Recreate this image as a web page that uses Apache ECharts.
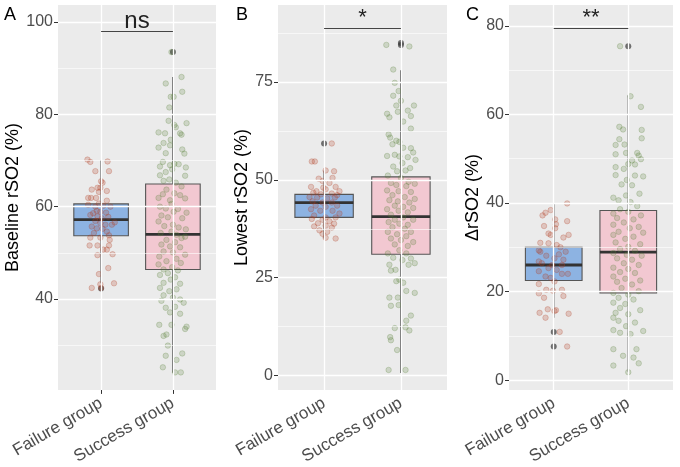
<!DOCTYPE html>
<html>
<head>
<meta charset="utf-8">
<script src="https://cdn.jsdelivr.net/npm/echarts@6/dist/echarts.min.js"></script>
<style>
  html, body { margin: 0; padding: 0; background: #fff; }
  #chart { width: 680px; height: 467px; }
</style>
</head>
<body>
<div id="chart"></div>
<script>
// groups and panel texts
const categories = ['Failure group', 'Success group'];
const panelLetters = ['A', 'B', 'C'];
const yTitles = ['Baseline rSO2 (%)', 'Lowest rSO2 (%)', 'ΔrSO2 (%)'];
const sigText = ['ns', '*', '**'];
const sigY = [98, 88.7, 79.4];

// axis ranges and ticks
const yRange = [[20.3, 103.7], [-3.7, 94.7], [-2.2, 84.7]];
const yMajor = [[40, 60, 80, 100], [0, 25, 50, 75], [0, 20, 40, 60, 80]];
const yMinor = [[30, 50, 70, 90], [12.5, 37.5, 62.5, 87.5], [10, 30, 50, 70]];

// box stats: [lower whisker, Q1, median, Q3, upper whisker]
const aFailBox = [43.4, 53.7, 57.2, 60.6, 70.1];
const aSuccBox = [24.0, 46.4, 54.0, 64.9, 88.1];
const bFailBox = [35.0, 40.4, 44.2, 46.3, 52.4];
const bSuccBox = [0.6, 31.0, 40.6, 50.75, 78.0];
const cFailBox = [14.1, 22.5, 26.0, 30.0, 39.9];
const cSuccBox = [1.9, 19.7, 28.9, 38.3, 64.3];

// outliers
const aFailOut = [42.3];
const aSuccOut = [93.5];
const bFailOut = [59.3];
const bSuccOut = [84.5, 85.0];
const cFailOut = [10.9, 7.6];
const cSuccOut = [75.4];

// panel A jittered points
const aFailVals = [70.2, 69.7, 69.8, 67.7, 67.7, 65.5, 65.2, 64.1, 64.1, 63.7, 63.2, 63.4, 61.9, 61.9, 61.9, 61.3, 60.7, 60.4, 60.0, 60.2,
  60.0, 59.1, 58.9, 58.6, 58.7, 58.2, 57.9, 57.5, 57.8, 56.6, 56.9, 56.4, 56.1, 56.1, 55.7, 55.3, 55.2, 54.6, 54.3, 53.8,
  53.3, 53.3, 52.8, 51.6, 51.6, 51.6, 50.7, 50.7, 49.7, 49.5, 46.7, 45.4, 43.2, 43.4, 42.4, 42.4];
const aFailJit = [-0.19, -0.15, 0.09, -0.08, 0.11, 0.00, 0.02, -0.05, -0.01, -0.13, -0.03, 0.08, -0.18, -0.14, -0.07, 0.08, -0.03, -0.18, -0.08, 0.03,
  0.13, -0.06, -0.01, -0.11, 0.07, -0.15, -0.05, 0.01, 0.10, 0.19, -0.08, -0.01, 0.06, 0.15, -0.13, -0.06, 0.02, 0.08, -0.10, 0.11,
  -0.01, -0.15, 0.12, -0.16, -0.05, 0.11, 0.03, 0.08, 0.16, -0.05, 0.10, -0.03, -0.01, 0.18, -0.13, 0.00];
const aSuccVals = [93.5, 88.1, 86.7, 84.9, 83.8, 83.8, 81.5, 78.6, 78.1, 77.7, 77.2, 76.1, 75.9, 75.9, 75.6, 73.8, 74.5, 73.3, 72.8, 72.4,
  71.6, 71.5, 69.7, 69.3, 69.2, 69.0, 68.7, 68.1, 67.5, 68.5, 66.8, 66.7, 65.9, 65.2, 65.6, 64.4, 63.7, 62.7, 62.9, 62.5,
  61.9, 61.8, 61.4, 60.6, 60.0, 59.6, 59.5, 58.9, 58.7, 58.1, 57.7, 57.5, 56.8, 56.1, 55.8, 55.5, 55.1, 54.6, 54.3, 53.9,
  53.2, 52.8, 52.3, 53.5, 51.8, 51.4, 51.2, 50.3, 50.1, 49.2, 49.6, 48.7, 48.2, 47.8, 47.5, 46.9, 46.4, 46.2, 45.6, 45.2,
  44.7, 44.2, 43.5, 43.3, 42.4, 41.7, 42.1, 40.8, 40.3, 39.9, 39.6, 39.2, 38.1, 38.3, 37.1, 36.8, 34.4, 34.4, 34.0, 33.5,
  32.0, 32.3, 29.9, 28.2, 27.7, 26.8, 25.2, 24.1, 24.1];
const aSuccJit = [-0.02, 0.12, -0.10, 0.13, -0.03, 0.01, -0.05, -0.06, 0.19, 0.02, 0.04, -0.20, -0.11, 0.10, 0.12, -0.13, -0.03, -0.04, -0.20, 0.13,
  -0.10, 0.16, -0.14, 0.02, 0.08, -0.04, -0.18, -0.01, -0.10, 0.18, -0.18, 0.17, -0.05, 0.04, -0.13, 0.12, -0.09, -0.14, 0.02, 0.10,
  -0.20, 0.17, -0.04, -0.02, -0.18, -0.10, 0.07, 0.01, 0.19, -0.16, -0.07, 0.13, -0.20, 0.00, -0.12, 0.08, 0.18, -0.02, -0.17, 0.05,
  0.12, -0.09, 0.03, 0.17, -0.16, -0.04, 0.10, -0.13, 0.00, -0.19, 0.17, 0.05, -0.09, 0.11, -0.20, -0.01, -0.13, 0.07, -0.07, -0.18,
  0.03, -0.03, -0.13, 0.10, -0.18, -0.05, 0.05, -0.13, 0.00, 0.10, -0.16, 0.15, -0.10, 0.03, -0.04, 0.10, -0.02, -0.19, 0.19, 0.17,
  -0.13, -0.09, -0.07, 0.13, -0.10, 0.05, -0.14, 0.03, 0.11];

// panel B jittered points
const bFailVals = [59.3, 54.7, 54.7, 52.4, 52.2, 50.3, 50.5, 49.7, 49.2, 48.2, 48.0, 48.2, 47.1, 47.6, 47.1, 46.7, 46.3, 46.5, 46.1, 45.6,
  45.5, 45.3, 45.5, 44.5, 44.2, 44.2, 43.4, 43.1, 43.4, 42.5, 42.1, 42.1, 41.4, 40.9, 40.4, 40.4, 40.0, 39.8, 39.4, 38.9,
  38.8, 38.3, 38.1, 37.8, 37.1, 36.7, 36.2, 35.0, 35.2];
const bFailJit = [0.10, -0.16, -0.12, 0.02, 0.13, -0.07, 0.11, -0.02, 0.07, -0.17, -0.01, 0.15, -0.10, 0.02, 0.20, -0.14, -0.04, 0.10, 0.17, -0.19,
  -0.09, 0.04, 0.14, -0.15, -0.02, 0.10, -0.11, 0.02, 0.17, -0.17, -0.05, 0.11, 0.20, -0.13, 0.02, 0.15, -0.16, -0.02, 0.07, -0.08,
  0.13, 0.02, -0.13, 0.10, -0.06, 0.04, -0.02, 0.15, 0.02];
const bSuccVals = [84.5, 84.1, 78.2, 74.8, 72.7, 71.5, 70.2, 69.0, 69.0, 67.4, 66.9, 67.7, 66.0, 66.3, 64.9, 63.1, 61.6, 60.8, 60.0, 59.7,
  59.1, 58.2, 58.1, 57.0, 56.1, 56.4, 56.0, 55.8, 55.1, 54.3, 53.4, 53.0, 52.2, 52.4, 51.1, 50.5, 49.5, 49.2, 49.0, 48.7,
  48.4, 47.3, 47.1, 46.9, 46.1, 45.6, 45.1, 44.8, 44.5, 44.2, 43.4, 43.1, 42.5, 42.8, 42.1, 41.7, 41.1, 40.4, 39.8, 39.8,
  39.2, 38.8, 38.5, 37.9, 37.5, 36.7, 36.7, 36.1, 35.6, 35.0, 34.6, 34.1, 33.5, 33.1, 31.2, 32.0, 31.2, 30.1, 29.9, 29.5,
  28.7, 28.3, 28.3, 27.0, 26.8, 24.5, 24.1, 23.7, 21.1, 21.6, 19.9, 19.9, 17.8, 18.0, 15.3, 14.0, 12.1, 12.3, 11.5, 9.8,
  9.0, 6.5, 1.4, 1.4];
const bSuccJit = [-0.19, 0.11, -0.10, -0.08, -0.03, -0.10, 0.00, 0.17, -0.06, -0.04, -0.18, 0.09, -0.15, 0.13, 0.03, 0.13, -0.16, -0.14, -0.06, -0.02,
  -0.11, 0.03, 0.13, 0.16, -0.18, -0.08, -0.02, 0.09, 0.19, 0.02, -0.10, 0.12, -0.05, 0.06, -0.17, 0.00, 0.10, -0.13, 0.18, -0.06,
  0.07, -0.18, -0.03, 0.13, -0.11, 0.05, 0.18, -0.15, -0.04, 0.11, -0.08, 0.03, -0.18, 0.16, -0.03, 0.09, -0.13, 0.03, -0.08, 0.16,
  -0.16, -0.02, 0.09, -0.11, 0.05, -0.17, 0.13, -0.05, 0.07, -0.13, 0.00, 0.16, -0.08, 0.09, -0.17, -0.02, 0.07, -0.10, 0.13, 0.02,
  0.18, -0.15, 0.10, -0.07, -0.13, -0.02, -0.06, 0.03, 0.18, 0.07, -0.15, -0.04, -0.13, -0.03, 0.13, 0.07, -0.08, 0.06, 0.11, -0.14,
  -0.13, -0.05, -0.16, 0.06];

// panel C jittered points
const cFailVals = [39.9, 37.8, 38.4, 37.2, 36.3, 35.9, 34.8, 35.2, 34.3, 33.1, 32.8, 32.8, 32.2, 31.0, 30.5, 30.9, 30.0, 29.3, 29.0, 28.4,
  29.0, 28.1, 27.5, 27.2, 26.8, 26.4, 26.0, 26.0, 25.3, 24.9, 24.6, 24.0, 24.0, 23.4, 23.1, 22.3, 21.7, 20.4, 20.4, 20.2,
  19.6, 19.0, 18.6, 15.8, 15.6, 15.2, 15.0, 16.0, 14.1, 10.9, 7.6];
const cFailJit = [0.18, -0.11, -0.04, -0.15, 0.02, 0.18, -0.13, 0.03, 0.02, -0.07, -0.04, 0.20, 0.13, -0.18, 0.04, -0.07, 0.09, -0.20, -0.18, 0.07,
  0.16, -0.10, 0.01, 0.13, -0.20, -0.16, -0.02, 0.11, -0.07, 0.04, -0.20, 0.19, 0.11, -0.11, -0.04, 0.01, -0.20, -0.10, 0.11, -0.01,
  -0.20, 0.13, -0.13, 0.03, 0.01, -0.19, 0.20, -0.08, -0.11, 0.08, 0.18];
const cSuccVals = [75.4, 64.1, 61.7, 57.2, 56.6, 56.5, 54.6, 54.4, 53.2, 53.1, 51.3, 51.3, 51.0, 49.9, 49.6, 50.7, 48.8, 48.7, 48.1, 47.7,
  46.3, 46.0, 46.2, 45.2, 44.2, 44.0, 41.2, 41.7, 42.1, 40.6, 40.2, 39.3, 38.6, 38.0, 37.6, 37.2, 36.6, 36.3, 35.6, 35.1,
  34.6, 34.3, 33.5, 33.3, 32.8, 32.4, 31.9, 31.1, 30.7, 30.1, 29.6, 29.2, 28.7, 28.3, 28.1, 27.5, 27.2, 26.4, 26.0, 25.4,
  25.1, 24.4, 24.2, 23.4, 22.9, 22.5, 22.2, 21.6, 20.8, 19.7, 20.1, 19.3, 18.6, 18.2, 17.5, 17.2, 16.3, 15.8, 15.2, 14.9,
  14.1, 13.4, 13.0, 12.2, 11.3, 11.1, 10.7, 10.4, 7.0, 7.0, 5.5, 5.1, 3.8, 3.3, 1.8];
const cSuccJit = [-0.11, 0.03, 0.17, -0.12, -0.07, 0.18, 0.18, -0.12, -0.05, -0.17, -0.03, 0.12, -0.17, 0.17, 0.05, 0.14, 0.00, 0.09, -0.17, -0.06,
  -0.17, 0.20, 0.09, -0.02, -0.09, 0.05, -0.20, -0.03, 0.15, -0.13, 0.03, 0.12, -0.11, 0.00, -0.20, 0.17, -0.15, 0.07, -0.06, -0.20,
  0.14, 0.02, -0.13, 0.20, -0.20, 0.07, -0.04, -0.17, 0.16, 0.00, -0.11, 0.09, -0.20, -0.02, 0.18, -0.15, 0.05, -0.06, 0.14, -0.20,
  0.00, -0.11, 0.09, -0.20, -0.04, 0.16, -0.15, 0.05, -0.09, -0.20, 0.14, 0.00, -0.13, 0.07, -0.20, -0.04, -0.11, 0.16, -0.17, 0.00,
  -0.20, -0.13, 0.09, -0.03, -0.20, 0.20, -0.11, 0.03, -0.20, 0.11, -0.07, 0.07, 0.14, -0.20, 0.00];

const panels = [
  { box: [aFailBox, aSuccBox], out: [aFailOut, aSuccOut], vals: [aFailVals, aSuccVals], jit: [aFailJit, aSuccJit] },
  { box: [bFailBox, bSuccBox], out: [bFailOut, bSuccOut], vals: [bFailVals, bSuccVals], jit: [bFailJit, bSuccJit] },
  { box: [cFailBox, cSuccBox], out: [cFailOut, cSuccOut], vals: [cFailVals, cSuccVals], jit: [cFailJit, cSuccJit] },
];

// look
const FONT = '"Liberation Sans", Arial, sans-serif';
const boxFill = ['#8DB3E2', '#F2C8D1'];
const pointFill = ['rgba(178,64,34,0.28)', 'rgba(86,126,52,0.26)'];
const pointStroke = ['rgba(178,64,34,0.40)', 'rgba(86,126,52,0.38)'];
const gridPos = [
  { left: 58, top: 5, width: 158, height: 387 },
  { left: 278, top: 5, width: 169, height: 388 },
  { left: 509, top: 5, width: 164, height: 388 },
];
const nameGaps = [35, 26, 25];
const letterPos = [[4, 6], [236, 6], [466, 6]];
const HALF_BOX = 0.38;

function renderBox(params, api) {
  const x = api.value(0);
  const lo = api.coord([x, api.value(1)]);
  const q1 = api.coord([x, api.value(2)]);
  const md = api.coord([x, api.value(3)]);
  const q3 = api.coord([x, api.value(4)]);
  const hi = api.coord([x, api.value(5)]);
  const left = api.coord([x - HALF_BOX, api.value(3)])[0];
  const right = api.coord([x + HALF_BOX, api.value(3)])[0];
  return {
    type: 'group',
    children: [
      { type: 'line', shape: { x1: lo[0], y1: lo[1], x2: q1[0], y2: q1[1] }, style: { stroke: '#333', lineWidth: 1.2 } },
      { type: 'line', shape: { x1: q3[0], y1: q3[1], x2: hi[0], y2: hi[1] }, style: { stroke: '#333', lineWidth: 1.2 } },
      { type: 'rect', shape: { x: left, y: q3[1], width: right - left, height: q1[1] - q3[1] },
        style: { fill: boxFill[params.dataIndex], stroke: '#555', lineWidth: 1.1 } },
      { type: 'line', shape: { x1: left, y1: md[1], x2: right, y2: md[1] }, style: { stroke: '#333', lineWidth: 2.8 } },
    ],
  };
}

const grid = [], xAxis = [], yAxis = [], series = [], title = [];

panels.forEach((p, k) => {
  grid.push(Object.assign({ show: true, backgroundColor: '#EBEBEB', borderWidth: 0 }, gridPos[k]));

  xAxis.push({
    gridIndex: k, type: 'value', min: 0.4, max: 2.6,
    axisLine: { show: false },
    splitLine: { show: false },
    axisTick: { show: true, customValues: [1, 2], length: 4, lineStyle: { color: '#333', width: 1 } },
    axisLabel: {
      customValues: [1, 2], rotate: 30, margin: 12, fontSize: 17, color: '#4D4D4D', fontFamily: FONT,
      formatter: (v) => categories[Math.round(v) - 1],
    },
  });

  yAxis.push({
    gridIndex: k, type: 'value', min: yRange[k][0], max: yRange[k][1],
    name: yTitles[k], nameLocation: 'middle', nameGap: nameGaps[k], nameRotate: 90,
    nameTextStyle: { fontSize: 18, color: '#000', fontFamily: FONT },
    axisLine: { show: false },
    splitLine: { show: false },
    axisTick: { show: true, customValues: yMajor[k], length: 4, lineStyle: { color: '#333', width: 1 } },
    axisLabel: { customValues: yMajor[k], margin: 5, fontSize: 16, color: '#4D4D4D', fontFamily: FONT },
  });

  title.push({
    text: panelLetters[k], left: letterPos[k][0], top: letterPos[k][1], padding: 0,
    textStyle: { fontSize: 18, fontWeight: 'normal', color: '#000', fontFamily: FONT },
  });

  // background grid lines + significance bracket
  const mlData = [];
  yMajor[k].forEach(v => mlData.push({ yAxis: v, lineStyle: { color: '#fff', width: 1.3, type: 'solid' } }));
  yMinor[k].forEach(v => mlData.push({ yAxis: v, lineStyle: { color: '#fff', width: 0.6, type: 'solid' } }));
  [1, 2].forEach(v => mlData.push({ xAxis: v, lineStyle: { color: '#fff', width: 1.3, type: 'solid' } }));
  mlData.push([
    { coord: [1, sigY[k]], lineStyle: { color: '#444', width: 1, type: 'solid' },
      label: { show: true, position: 'middle', formatter: sigText[k], distance: k === 0 ? -2 : 0,
        fontSize: k === 0 ? 24 : 22, color: '#222', fontFamily: FONT } },
    { coord: [2, sigY[k]] },
  ]);
  series.push({
    type: 'scatter', xAxisIndex: k, yAxisIndex: k, data: [], z: 1, silent: true,
    markLine: { silent: true, symbol: 'none', animation: false, label: { show: false }, data: mlData },
  });

  // boxes
  series.push({
    type: 'custom', xAxisIndex: k, yAxisIndex: k, z: 2, silent: true,
    renderItem: renderBox,
    encode: { x: 0, y: [1, 2, 3, 4, 5] },
    data: p.box.map((b, g) => [g + 1].concat(b)),
  });

  // outliers
  series.push({
    type: 'scatter', xAxisIndex: k, yAxisIndex: k, z: 3, silent: true,
    symbolSize: 6,
    itemStyle: { color: 'rgba(50,50,50,0.85)' },
    data: p.out.flatMap((arr, g) => arr.map(v => [g + 1, v])),
  });

  // jittered points
  [0, 1].forEach(g => {
    series.push({
      type: 'scatter', xAxisIndex: k, yAxisIndex: k, z: 4, silent: true,
      symbolSize: 5.5,
      itemStyle: { color: pointFill[g], borderColor: pointStroke[g], borderWidth: 0.8 },
      data: p.vals[g].map((v, i) => [g + 1 + p.jit[g][i], v]),
    });
  });
});

const chart = echarts.init(document.getElementById('chart'), null, { renderer: 'canvas' });
chart.setOption({
  animation: false,
  backgroundColor: '#fff',
  textStyle: { fontFamily: FONT },
  title, grid, xAxis, yAxis, series,
});
</script>
</body>
</html>
